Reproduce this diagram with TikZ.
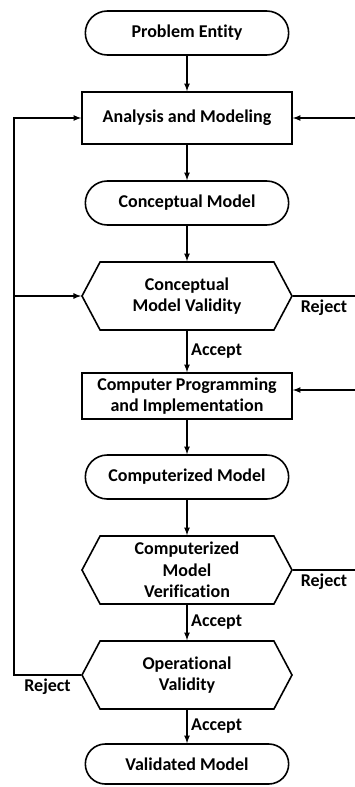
\documentclass[tikz,border=0pt]{standalone}
\usepackage{fontspec}
\setmainfont{Carlito}[Ligatures=NoCommon]
\usetikzlibrary{arrows,shapes.misc,shapes.symbols}

\begin{document}
\begin{tikzpicture}[>=latex,auto,node distance=85pt,line width=1.6pt,
        every node/.style={font=\fontsize{18}{21.5}\selectfont\bfseries},
        term node/.style={rounded rectangle,draw,minimum width=210pt,minimum height=44pt},
        proc node/.style={rectangle,draw,minimum width=210pt,minimum height=46pt,inner ysep=1pt,align=center},
        test node/.style={signal,signal to=west and east,signal pointer angle=124,draw,
            minimum width=210pt,minimum height=68pt,inner xsep=2pt,inner ysep=0pt,align=center}]
        \useasboundingbox (0,0) rectangle (355pt,-787pt);
        \node[term node] (1) at (187pt,-33pt) {Problem Entity};
        \node[proc node, minimum height=52pt] (2) [below of=1] {Analysis and Modeling};
        \node[term node] (3) [below of=2] {Conceptual Model};
        \node[test node] (4) [below of=3, node distance=93pt] {Conceptual\\Model Validity};
        \node[proc node] (5) [below of=4, node distance=100pt] {Computer Programming\\and Implementation};
        \node[term node] (6) [below of=5, node distance=81pt] {Computerized Model};
        \node[test node] (7) [below of=6, node distance=93pt] {Computerized\\Model\\Verification};
        \node[test node] (8) [below of=7, node distance=105pt] {Operational\\Validity};
        \node[term node, minimum height=40pt] (9) [below of=8, node distance=89pt] {Validated Model};
        \coordinate (l) at (14pt,0);
        \coordinate (r) at (355pt,0);
        \path[->]
        (1) edge (2)
        (2) edge (3)
        (3) edge (4)
        (4) edge node {Accept} (5)
        (5) edge (6)
        (6) edge (7)
        (7) edge node {Accept} (8)
        (8) edge node {Accept} (9)
        ;
        % feedback loops
        \draw[->] (8.west) -- node[below] {Reject} (l |- 8.west) |- (2.west);
        \draw[->] (l |- 4.west) -- (4.west);
        \draw (4.east) -- node[below] {Reject} (r |- 4.east);
        \draw[->] (r |- 2.east) -- (2.east);
        \draw (7.east) -- node[below] {Reject} (r |- 7.east);
        \draw[->] ([yshift=6pt]r |- 5.east) -- ([yshift=6pt]5.east);
\end{tikzpicture}
\end{document}
